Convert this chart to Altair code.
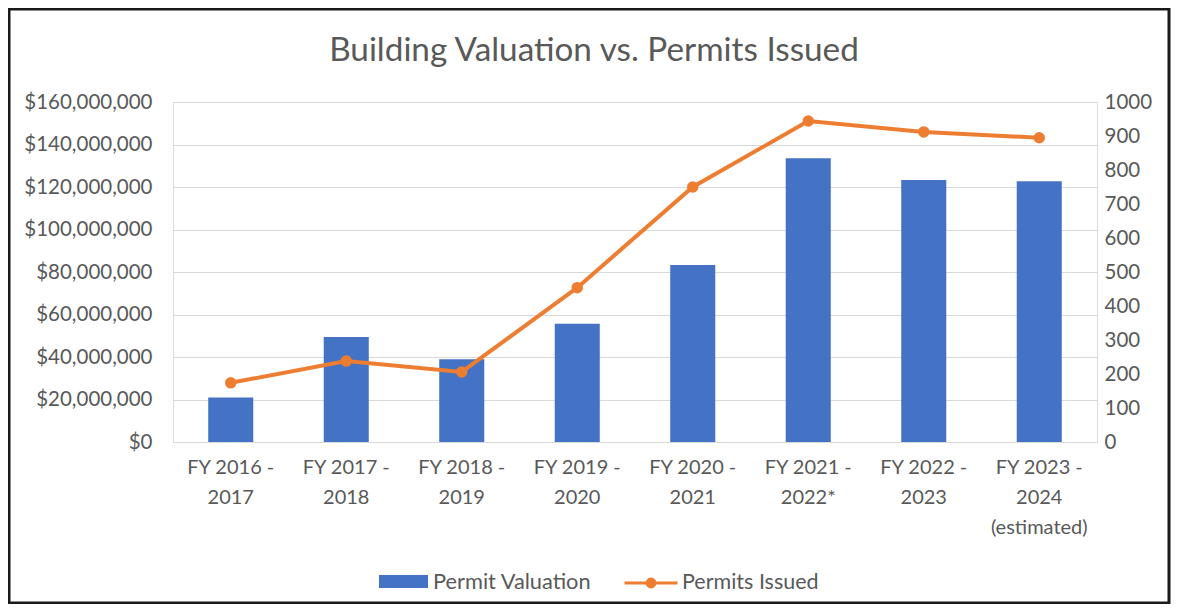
import altair as alt
import pandas as pd

categories = ["FY 2016 -|2017", "FY 2017 -|2018", "FY 2018 -|2019", "FY 2019 -|2020",
              "FY 2020 -|2021", "FY 2021 -|2022*", "FY 2022 -|2023", "FY 2023 -|2024|(estimated)"]
valuation = [21000000, 49400000, 38900000, 55700000, 83300000, 133500000, 123300000, 122700000]
permits = [174, 238, 206, 454, 750, 944, 912, 895]

BLUE = "#4472C4"
ORANGE = "#ED7D31"
GRAY = "#595959"
FONT = "Lato"

df = pd.DataFrame({
    "cat": categories,
    "valuation": valuation,
    "permits": permits,
    "s1": ["Permit Valuation"] * len(categories),
    "s2": ["Permits Issued"] * len(categories),
})

x = alt.X("cat:N", sort=categories, title=None,
          scale=alt.Scale(paddingInner=0.61, paddingOuter=0.305),
          axis=alt.Axis(labelExpr="split(datum.label, '|')", labelAngle=0, labelFontSize=20,
                        labelColor=GRAY, labelFont=FONT, labelLineHeight=30, labelPadding=15,
                        ticks=False, domainColor="#D9D9D9", labelBaseline="top"))

base = alt.Chart(df)

bars = base.mark_bar().encode(
    x=x,
    y=alt.Y("valuation:Q", title=None,
            scale=alt.Scale(domain=[0, 160000000]),
            axis=alt.Axis(orient="left", values=list(range(0, 160000001, 20000000)),
                          format="$,.0f", labelFontSize=20.5, labelColor=GRAY, labelFont=FONT,
                          labelPadding=21, ticks=False, domain=False,
                          gridColor="#D9D9D9", gridWidth=1.2)),
    fill=alt.Fill("s1:N", title=None,
                  scale=alt.Scale(domain=["Permit Valuation"], range=[BLUE]),
                  legend=alt.Legend(orient="none", legendX=206, legendY=455,
                                    symbolType="M-1,-0.265H1V0.265H-1Z", symbolSize=2401,
                                    symbolStrokeWidth=0, labelFontSize=21.8, labelColor=GRAY,
                                    labelFont=FONT, labelOffset=5, padding=0)),
)

line = base.mark_line(strokeWidth=4,
                      point=alt.OverlayMarkDef(filled=True, fill=ORANGE, size=90)).encode(
    x=x,
    y=alt.Y("permits:Q", title=None,
            scale=alt.Scale(domain=[0, 1000]),
            axis=alt.Axis(orient="right", values=list(range(0, 1001, 100)), format="d",
                          labelFontSize=20.5, labelColor=GRAY, labelFont=FONT,
                          labelPadding=7, ticks=False, domain=False, grid=False)),
    stroke=alt.Stroke("s2:N", title=None,
                      scale=alt.Scale(domain=["Permits Issued"], range=[ORANGE]),
                      legend=alt.Legend(orient="none", legendX=450, legendY=453,
                                        symbolType="M-1,0L1,0M0.15,0A0.15,0.15,0,1,1,-0.15,0A0.15,0.15,0,1,1,0.15,0",
                                        symbolSize=2809, symbolStrokeWidth=3,
                                        symbolFillColor=ORANGE, symbolStrokeColor=ORANGE,
                                        labelFontSize=21.5, labelColor=GRAY, labelFont=FONT,
                                        labelOffset=3, padding=0)),
)

frame = alt.Chart(alt.Data(values=[{}])).mark_rect(filled=False, stroke="#1a1a1a", strokeWidth=3).encode(
    x=alt.value(-164), x2=alt.value(996), y=alt.value(-93), y2=alt.value(501)
)

chart = alt.layer(bars, line, frame).resolve_scale(
    y="independent", fill="independent", stroke="independent"
).properties(
    width=924, height=340,
    title=alt.Title("Building Valuation vs. Permits Issued", fontSize=33.3, font=FONT,
                    color=GRAY, fontWeight="normal", anchor="middle", dx=-41, offset=0, dy=61),
    autosize=alt.AutoSizeParams(type="none"),
    padding={"left": 165, "top": 94, "right": 74, "bottom": 162},
).configure_view(stroke=None).configure(background="white")

chart.save("out.html", embed_options={"renderer": "svg", "actions": False})
